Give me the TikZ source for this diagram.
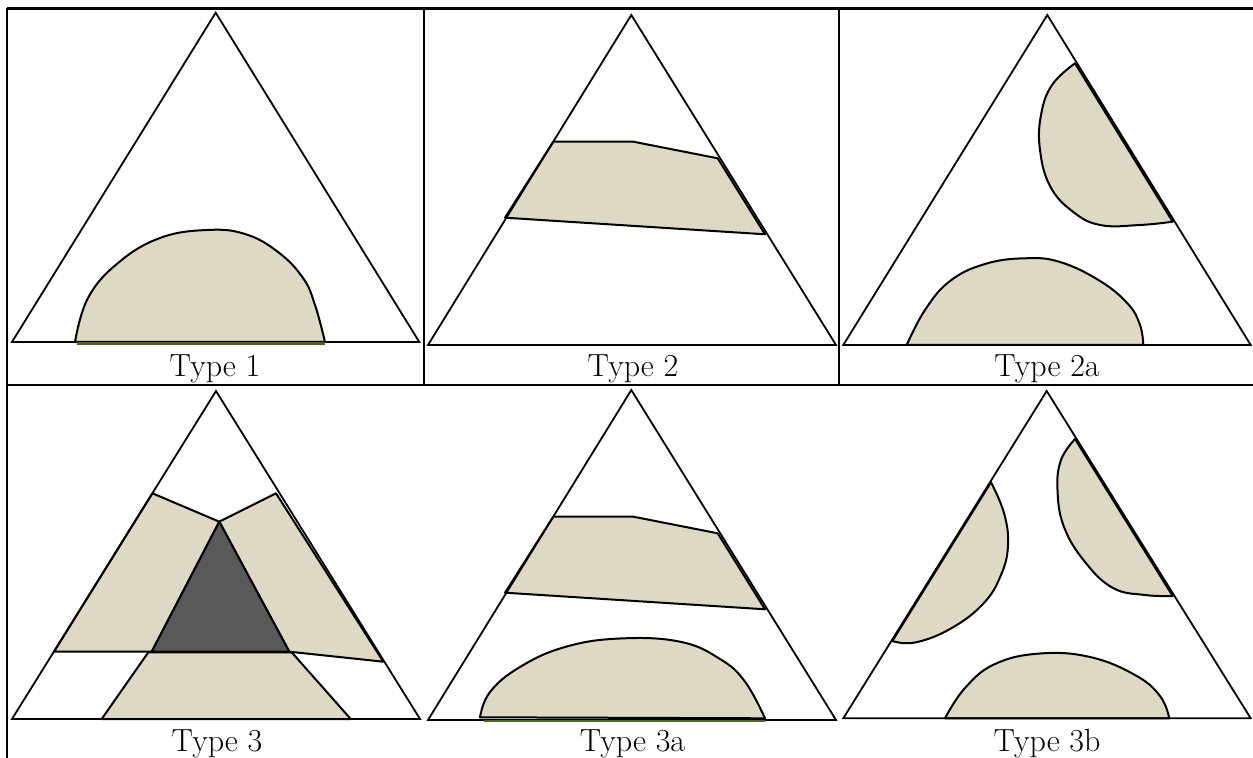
\documentclass[tikz,border=0pt]{standalone}
\usepackage{xcolor}
\usepackage{tikz}

\definecolor{tan}{HTML}{DDD9C4}
\definecolor{darkgrey}{HTML}{595959}
\definecolor{olive}{HTML}{4F6228}

\tikzset{
    grid/.style={line width=1.2pt},
    tri/.style={line width=0.9pt,line join=miter},
    region/.style={fill=tan,draw=black,line width=1pt,line join=round},
    baseline/.style={olive,line width=1.4pt},
    label/.style={anchor=base,inner sep=0pt,font=\fontsize{16}{19}\selectfont}
}

\begin{document}
\begin{tikzpicture}[x=0.5pt,y=-0.5pt]
    \useasboundingbox (0,0) rectangle (1253,758);

    % triangle corners
    \coordinate (A1) at (215.7,12.7);
    \coordinate (B1) at (12,342);
    \coordinate (C1) at (419.3,342);
    \coordinate (A2) at (631.3,15);
    \coordinate (B2) at (428,345);
    \coordinate (C2) at (836,345);
    \coordinate (A2a) at (1047.3,15);
    \coordinate (B2a) at (843.3,345);
    \coordinate (C2a) at (1250.7,345);
    \coordinate (A3) at (216,391);
    \coordinate (B3) at (12,719);
    \coordinate (C3) at (420,719);
    \coordinate (A3a) at (631.3,390);
    \coordinate (B3a) at (428,720);
    \coordinate (C3a) at (836,720);
    \coordinate (A3b) at (1046.7,391);
    \coordinate (B3b) at (843.3,718.3);
    \coordinate (C3b) at (1250.7,718.3);

    % table lines
    \coordinate (TL) at (7,8.5);
    \coordinate (TR) at (1253,8.5);
    \coordinate (ML) at (7,385);
    \coordinate (MR) at (1253,385);
    \coordinate (BL) at (7,758);
    \draw[grid] (TL) -- (TR);
    \draw[grid] (ML) -- (MR);
    \draw[grid] (TL) -- (BL);
    \draw[grid] (424,8.5) -- (424,385);
    \draw[grid] (839,8.5) -- (839,385);

    % Type 1
    \filldraw[region] plot[smooth,tension=0.7] coordinates {(75,342) (88,298) (118,263) (160,238) (207,230) (245,234) (278,252) (303,278) (315,305) (325,342)} -- cycle;
    \draw[tri] (A1) -- (B1) -- (C1) -- cycle;
    \draw[baseline] (77,343.5) -- (325,343.5);

    % Type 2
    \filldraw[region] (553.3,141.7) -- (633.3,141.7) -- (717.7,158.3) -- (765,234.3) -- (505,217.7) -- cycle;
    \draw[tri] (A2) -- (B2) -- (C2) -- cycle;

    % Type 2a
    \filldraw[region] plot[smooth,tension=0.7] coordinates {(1075,63.3) (1052,85) (1041,115) (1040,150) (1050,186) (1072,211) (1100,225) (1140,225) (1172.7,221.7)} -- cycle;
    \filldraw[region] plot[smooth,tension=0.7] coordinates {(906.7,345) (925,310) (950,281) (985,264) (1025,258.3) (1060,262) (1100,281) (1128,304) (1140,325) (1143.3,345)} -- cycle;
    \draw[tri] (A2a) -- (B2a) -- (C2a) -- cycle;

    % Type 3
    \coordinate (P) at (219.3,521.7);
    \coordinate (Q) at (151.7,651.7);
    \coordinate (R) at (289.3,651.7);
    \filldraw[region] (152.4,493.3) -- (P) -- (Q) -- (54,651.7) -- cycle;
    \filldraw[region] (P) -- (276,493.3) -- (383.3,661.7) -- (R) -- cycle;
    \filldraw[region] (148.3,652.3) -- (291.7,652.3) -- (350.7,719) -- (101.7,719) -- cycle;
    \filldraw[region,fill=darkgrey] (P) -- (Q) -- (R) -- cycle;
    \draw[tri] (A3) -- (B3) -- (C3) -- cycle;

    % Type 3a
    \filldraw[region] (553.3,516.7) -- (633.3,516.7) -- (717.7,533.3) -- (765,609.3) -- (505,592.7) -- cycle;
    \filldraw[region] plot[smooth,tension=0.7] coordinates {(480,717.3) (490,692) (520,667) (565,647) (620,638.5) (680,641.7) (720,659) (745,681.7) (765,718.3)} -- cycle;
    \draw[tri] (A3a) -- (B3a) -- (C3a) -- cycle;
    \draw[baseline] (484,721) -- (765,721);

    % Type 3b
    \filldraw[region] plot[smooth,tension=0.7] coordinates {(991,482.3) (1004,513) (1008,545) (1001,575) (983,604) (950,629) (915,642.5) (892.3,641)} -- cycle;
    \filldraw[region] plot[smooth,tension=0.7] coordinates {(1075,439) (1061,460) (1057.5,490) (1064,527) (1085,562) (1113,588) (1145,595) (1172.7,596)} -- cycle;
    \filldraw[region] plot[smooth,tension=0.7] coordinates {(945,718.3) (965,688) (995,664) (1040,653.5) (1090,657) (1135,675) (1160,696) (1169.3,718.3)} -- cycle;
    \draw[tri] (A3b) -- (B3b) -- (C3b) -- cycle;

    % captions
    \node[label] (t1) at (215,376.5) {Type 1};
    \node[label] (t2) at (633,376.5) {Type 2};
    \node[label] (t2a) at (1047,376.5) {Type 2a};
    \node[label] (t3) at (217,751.5) {Type 3};
    \node[label] (t3a) at (632.5,751.5) {Type 3a};
    \node[label] (t3b) at (1047,751.5) {Type 3b};
\end{tikzpicture}
\end{document}
